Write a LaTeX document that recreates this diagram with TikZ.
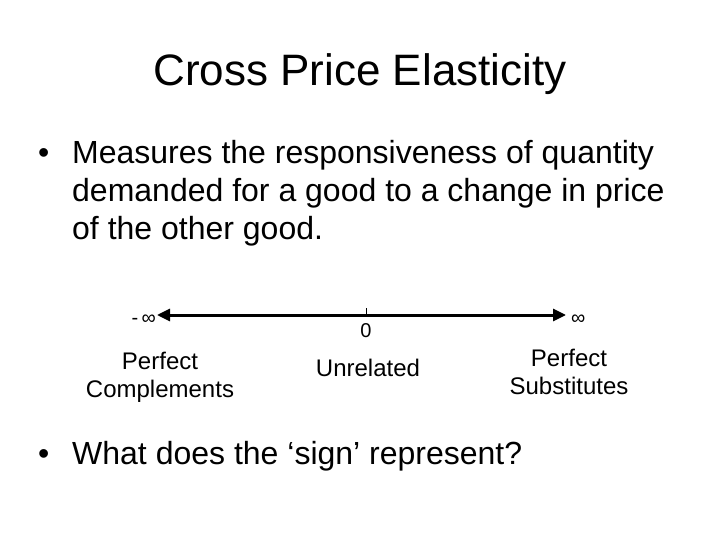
\documentclass[tikz,border=0pt]{standalone}
\usepackage{fontspec}
\setmainfont{Liberation Sans}
\usetikzlibrary{arrows.meta}
\begin{document}
\begin{tikzpicture}[x=1pt,y=-1pt,
		bodytext/.style={font=\fontsize{32}{38}\selectfont, anchor=base west, inner sep=0pt},
		catlabel/.style={font=\fontsize{24}{28}\selectfont, align=center, inner sep=0pt},
		endlabel/.style={font=\fontsize{20}{24}\selectfont, inner sep=0pt},
		numline/.style={line width=3pt, {Triangle[length=13pt,width=12pt]}-{Triangle[length=13pt,width=12pt]}}]
	\useasboundingbox (0,0) rectangle (720,540);
	
	\node [font=\fontsize{44}{50}\selectfont, anchor=base, inner sep=0pt] (title) at (360,86) {Cross Price Elasticity};
	
	\node [bodytext] (bulA) at (38,164) {•};
	\node [bodytext] (lineA) at (72,164) {Measures the responsiveness of quantity};
	\node [bodytext] (lineB) at (72,202) {demanded for a good to a change in price};
	\node [bodytext] (lineC) at (72,240) {of the other good.};
	
	% number line
	\coordinate (lend) at (157,315);
	\coordinate (rend) at (566,315);
	\coordinate (zero) at (366,315);
	\draw [numline] (lend) -- (rend);
	\draw [line width=1pt] (zero) -- ++(0,-7);
	\node [endlabel, anchor=base east] (minf) at ([xshift=-1pt,yshift=-9pt]lend) {-\,∞};
	\node [endlabel, anchor=base west] (pinf) at ([xshift=5pt,yshift=-9pt]rend) {∞};
	\node [endlabel] (zlab) at (366,331) {0};
	
	\node [catlabel] (compl) at (160,377) {Perfect\\Complements};
	\node [catlabel] (unrel) at (368,368) {Unrelated};
	\node [catlabel] (subst) at (569,372) {Perfect\\Substitutes};
	
	\node [bodytext] (bulB) at (38,464) {•};
	\node [bodytext] (lineD) at (72,464) {What does the ‘sign’ represent?};
\end{tikzpicture}
\end{document}
